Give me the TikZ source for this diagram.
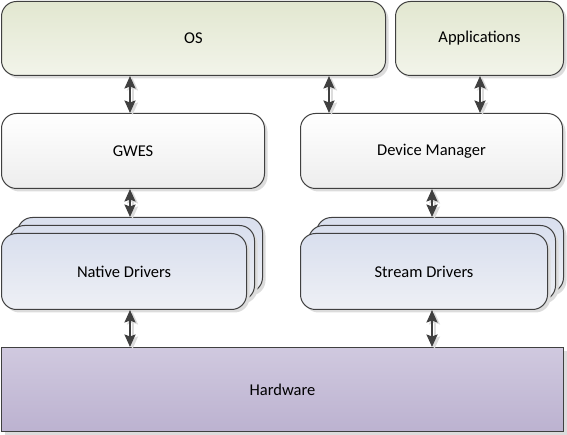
\documentclass[tikz,border=0pt]{standalone}
\usepackage{fontspec}
\setmainfont{Carlito}
\usetikzlibrary{arrows.meta,shadows,calc}
\definecolor{edge}{HTML}{404040}
\definecolor{gtop}{HTML}{E2E7D0}
\definecolor{gbot}{HTML}{F2F4EA}
\definecolor{wtop}{HTML}{FFFFFF}
\definecolor{wbot}{HTML}{EDEDED}
\definecolor{btop}{HTML}{D9DFEE}
\definecolor{bbot}{HTML}{EEF0F5}
\definecolor{htop}{HTML}{D0C9DF}
\definecolor{hbot}{HTML}{BCB2D0}
\definecolor{shad}{HTML}{DCDCDC}
\tikzset{
  base/.style={draw=edge, line width=1pt, inner sep=0pt, anchor=north west,
    font=\fontsize{16.5}{19}\selectfont, text=black,
    general shadow={shadow xshift=3pt, shadow yshift=-3pt, fill=shad}},
  rbox/.style={base, rounded corners=15pt},
  greenbox/.style={rbox, top color=gtop, bottom color=gbot},
  whitebox/.style={rbox, top color=wtop, bottom color=wbot},
  bluebox/.style={rbox, top color=btop, bottom color=bbot},
  hwbox/.style={base, top color=htop, bottom color=hbot},
  arr/.style={draw=edge, line width=2pt,
    {Stealth[length=12.5pt,width=11pt,inset=2pt]}-{Stealth[length=12.5pt,width=11pt,inset=2pt]}},
  arrshadow/.style={draw=shad, line width=2pt,
    {Stealth[length=12.5pt,width=11pt,inset=2pt]}-{Stealth[length=12.5pt,width=11pt,inset=2pt]},
    transform canvas={xshift=2.5pt,yshift=-2pt}}
}
\begin{document}
\begin{tikzpicture}[x=1pt,y=-1pt]
\useasboundingbox (0,0) rectangle (567,435);
% top row
\node[greenbox, minimum width=384pt, minimum height=74pt] (os) at (1,1) {OS};
\node[greenbox, minimum width=168pt, minimum height=74pt] (apps) at (395,1) {Applications};
% middle row
\node[whitebox, minimum width=263pt, minimum height=75pt] (gwes) at (1,113) {GWES};
\node[whitebox, minimum width=262pt, minimum height=75pt] (dm) at (300,113) {Device Manager};
% native drivers stack
\node[bluebox, minimum width=245pt, minimum height=75pt] (nd3) at (17,217) {};
\node[bluebox, minimum width=245pt, minimum height=75pt] (nd2) at (9,225) {};
\node[bluebox, minimum width=245pt, minimum height=76pt] (nd1) at (1,233) {Native Drivers};
% stream drivers stack
\node[bluebox, minimum width=247pt, minimum height=75pt] (sd3) at (316,217) {};
\node[bluebox, minimum width=247pt, minimum height=75pt] (sd2) at (308,225) {};
\node[bluebox, minimum width=247pt, minimum height=76pt] (sd1) at (300,233) {Stream Drivers};
% hardware
\node[hwbox, minimum width=562pt, minimum height=84pt] (hw) at (1,347) {Hardware};
% connector columns
\coordinate (c1) at (130,0);
\coordinate (c2) at (329,0);
\coordinate (c3) at (480,0);
\coordinate (c4) at (432,0);
% arrow shadows
\draw[arrshadow] (os.south -| c1) -- (gwes.north -| c1);
\draw[arrshadow] (gwes.south -| c1) -- (nd3.north -| c1);
\draw[arrshadow] (nd1.south -| c1) -- (hw.north -| c1);
\draw[arrshadow] (os.south -| c2) -- (dm.north -| c2);
\draw[arrshadow] (apps.south -| c3) -- (dm.north -| c3);
\draw[arrshadow] (dm.south -| c4) -- (sd3.north -| c4);
\draw[arrshadow] (sd1.south -| c4) -- (hw.north -| c4);
% arrows
\draw[arr] (os.south -| c1) -- (gwes.north -| c1);
\draw[arr] (gwes.south -| c1) -- (nd3.north -| c1);
\draw[arr] (nd1.south -| c1) -- (hw.north -| c1);
\draw[arr] (os.south -| c2) -- (dm.north -| c2);
\draw[arr] (apps.south -| c3) -- (dm.north -| c3);
\draw[arr] (dm.south -| c4) -- (sd3.north -| c4);
\draw[arr] (sd1.south -| c4) -- (hw.north -| c4);
\end{tikzpicture}
\end{document}
